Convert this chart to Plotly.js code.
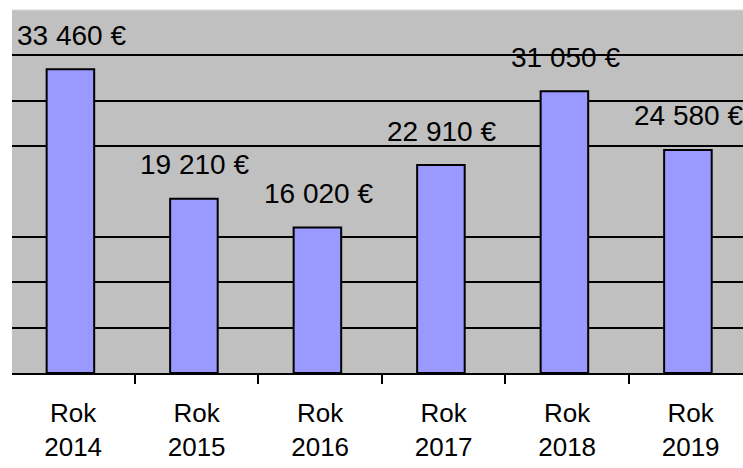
<!DOCTYPE html>
<html>
<head>
<meta charset="utf-8">
<script src="https://cdn.plot.ly/plotly-3.0.1.min.js"></script>
<style>html,body{margin:0;padding:0;background:#fff;}#chart{width:743px;height:468px;}</style>
</head>
<body>
<div id="chart"></div>
<script>
const categories = ["Rok<br>2014", "Rok<br>2015", "Rok<br>2016", "Rok<br>2017", "Rok<br>2018", "Rok<br>2019"];
const values = [33460, 19210, 16020, 22910, 31050, 24580];
const valueLabels = ["33 460 €", "19 210 €", "16 020 €", "22 910 €", "31 050 €", "24 580 €"];
const gridValues = [5000, 10000, 15000, 25000, 30000, 35000];

const barWidth = 0.385;
const trace = {
  type: 'bar',
  x: categories,
  y: values,
  width: barWidth,
  offset: -barWidth / 2 - 0.022,
  marker: {color: '#9999ff', line: {color: '#000000', width: 2}},
  hoverinfo: 'none',
  showlegend: false
};

const annotations = categories.map((c, i) => ({
  x: c, y: values[i], xref: 'x', yref: 'y',
  text: valueLabels[i], showarrow: false,
  xanchor: 'center', yanchor: 'middle', yshift: 34, xshift: -2,
  font: {family: 'Liberation Sans, Arial, sans-serif', size: 28, color: '#000'}
}));

const layout = {
  width: 743, height: 468,
  margin: {l: 12, r: 0, t: 10, b: 95},
  paper_bgcolor: '#ffffff',
  plot_bgcolor: '#c0c0c0',
  xaxis: {
    type: 'category',
    range: [-0.495, 5.424],
    tickson: 'boundaries',
    ticks: 'outside', ticklen: 9, tickwidth: 2, tickcolor: '#000',
    ticklabelstandoff: 16,
    showgrid: false,
    showline: true, linecolor: '#000', linewidth: 2,
    tickfont: {family: 'Liberation Sans, Arial, sans-serif', size: 26, color: '#000'},
    fixedrange: true
  },
  yaxis: {
    range: [0, 40000],
    tickvals: gridValues,
    showticklabels: false,
    ticks: '',
    showgrid: true, gridcolor: '#000', gridwidth: 2,
    zeroline: false, showline: false,
    fixedrange: true
  },
  annotations: annotations,
  shapes: [{type: 'line', xref: 'paper', yref: 'paper', x0: 0, x1: 1, y0: 1, y1: 1,
            line: {color: '#d8d8d8', width: 1}}]
};

Plotly.newPlot('chart', [trace], layout, {displayModeBar: false, staticPlot: true});
</script>
</body>
</html>
